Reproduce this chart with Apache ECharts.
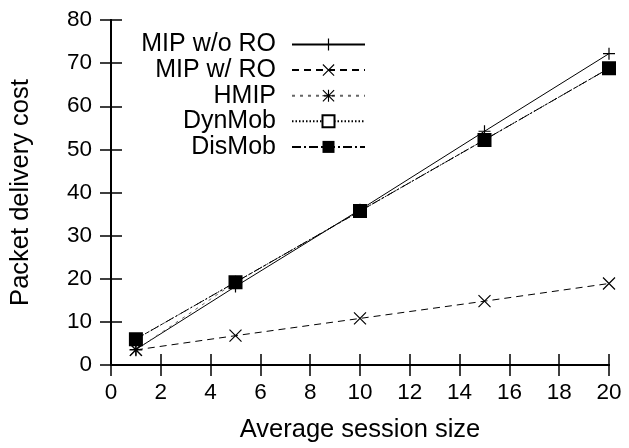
<!DOCTYPE html>
<html>
<head>
<meta charset="utf-8">
<script src="https://cdn.jsdelivr.net/npm/echarts@6/dist/echarts.min.js"></script>
<style>html,body{margin:0;padding:0;background:#fff;}#c{width:629px;height:448px;}</style>
</head>
<body>
<div id="c"></div>
<script>
var sessionSizes = [1, 5, 10, 15, 20];
var mipWithoutRO = [3.6, 18.2, 36, 54.2, 72.2];
var mipWithRO = [3.5, 6.8, 10.8, 14.8, 18.9];
var hmip = [3.5, 19.2, 35.7, 52.2, 68.8];
var dynMob = [6, 19.2, 35.7, 52.2, 68.8];
var disMob = [6, 19.2, 35.7, 52.2, 68.8];
var xTicks = [0, 2, 4, 6, 8, 10, 12, 14, 16, 18, 20];
var yTicks = [0, 10, 20, 30, 40, 50, 60, 70, 80];

function pairs(vals) { return sessionSizes.map(function (x, i) { return [x, vals[i]]; }); }

var FONT = 'Liberation Sans';
var PLUS = 'path://M-6,-0.6H6V0.6H-6Z M-0.6,-6H0.6V6H-0.6Z';
var CROSS = 'path://M-5.58,-6.42L6.42,5.58L5.58,6.42L-6.42,-5.58Z M5.58,-6.42L6.42,-5.58L-5.58,6.42L-6.42,5.58Z';
var STAR = 'path://M-5.58,-6.42L6.42,5.58L5.58,6.42L-6.42,-5.58Z M5.58,-6.42L6.42,-5.58L-5.58,6.42L-6.42,5.58Z M-6.42,-0.6H6.42V0.6H-6.42Z M-0.6,-6.42H0.6V6.42H-0.6Z';

function mkSeries(name, vals, symbol, size, dash, color, fill) {
  return {
    name: name, type: 'line', data: pairs(vals),
    symbol: symbol, symbolSize: size, showSymbol: true,
    lineStyle: { color: color, width: 1, type: dash },
    itemStyle: { color: fill || '#000', borderColor: '#000', borderWidth: symbol === 'emptyRect' ? 1 : 0 },
    emphasis: { disabled: true }, z: 2
  };
}

var seriesDefs = [
  mkSeries('MIP w/o RO', mipWithoutRO, PLUS, 12, 'solid', '#000'),
  mkSeries('MIP w/ RO', mipWithRO, CROSS, 12.84, [7, 5], '#000'),
  mkSeries('HMIP', hmip, STAR, 12.84, [3, 5], '#666'),
  mkSeries('DynMob', dynMob, 'emptyRect', 12, [1.5, 2], '#000', '#000'),
  mkSeries('DisMob', disMob, 'rect', 12, [9, 3, 2, 3], '#000')
];

var names = seriesDefs.map(function (s) { return s.name; });
var legends = [{
  data: names, orient: 'vertical', align: 'right', right: 263, top: 32, padding: 0,
  itemWidth: 73, itemHeight: 15, itemGap: 0.6, selectedMode: false,
  textStyle: { fontFamily: FONT, fontSize: 25, color: '#000', lineHeight: 24, padding: [0, 11, 0, 0] }
}];

function axisCommon(extra) {
  var base = {
    type: 'value',
    axisLine: { show: true, lineStyle: { color: '#000', width: 2 } },
    axisTick: { show: true, inside: true, length: 11, lineStyle: { color: '#000', width: 1.5 } },
    splitLine: { show: false },
    axisLabel: { color: '#000', fontFamily: FONT, fontSize: 22 }
  };
  for (var k in extra) base[k] = extra[k];
  return base;
}

var option = {
  animation: false,
  backgroundColor: '#fff',
  grid: { left: 110, right: 20, top: 20, bottom: 83 },
  legend: legends,
  xAxis: [
    axisCommon({ position: 'bottom', min: xTicks[0], max: xTicks[xTicks.length - 1], interval: 2,
      name: 'Average session size', nameLocation: 'middle', nameGap: 52,
      nameTextStyle: { color: '#000', fontFamily: FONT, fontSize: 25.5 },
      axisLabel: { color: '#000', fontFamily: FONT, fontSize: 22.5, margin: 16 } }),
    axisCommon({ position: 'top', min: xTicks[0], max: xTicks[xTicks.length - 1], interval: 2,
      axisLabel: { show: false } })
  ],
  yAxis: [
    axisCommon({ position: 'left', min: yTicks[0], max: yTicks[yTicks.length - 1], interval: 10,
      name: 'Packet delivery cost', nameLocation: 'middle', nameGap: 77,
      nameTextStyle: { color: '#000', fontFamily: FONT, fontSize: 25.5 },
      axisLabel: { color: '#000', fontFamily: FONT, fontSize: 22.5, margin: 19 } }),
    axisCommon({ position: 'right', min: yTicks[0], max: yTicks[yTicks.length - 1], interval: 10,
      axisLabel: { show: false } })
  ],
  series: seriesDefs
};

var chart = echarts.init(document.getElementById('c'), null, { renderer: 'canvas' });
chart.setOption(option);
</script>
</body>
</html>
